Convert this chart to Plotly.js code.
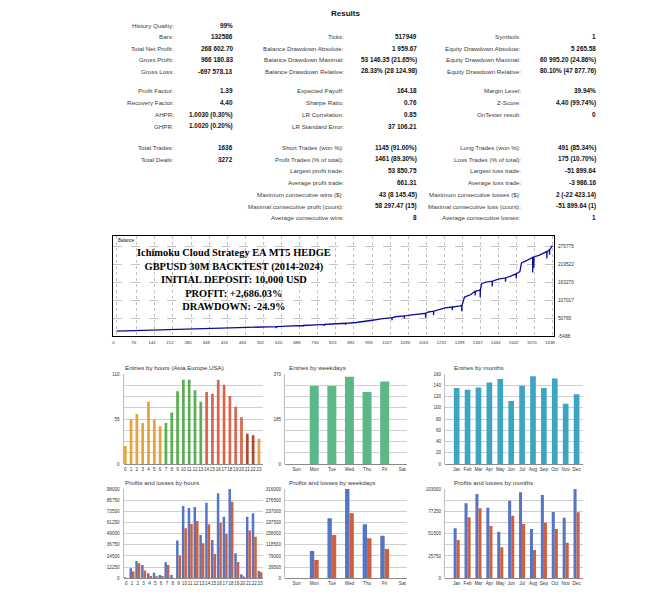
<!DOCTYPE html>
<html><head><meta charset="utf-8">
<script src="https://cdn.plot.ly/plotly-3.0.1.min.js"></script>
<style>html,body{margin:0;padding:0;background:#fff}#chart{width:672px;height:600px}</style>
</head><body><div id="chart"></div>
<script>
// ================= DATA =================
const reportTitle = "Results";
const col1Labels = ["History Quality:","Bars:","Total Net Profit:","Gross Profit:","Gross Loss:","Profit Factor:","Recovery Factor:","AHPR:","GHPR:","Total Trades:","Total Deals:","","","","",""];
const col1Values = ["99%","132586","268 602.70","966 180.83","-697 578.13","1.39","4.40","1.0030 (0.30%)","1.0020 (0.20%)","1636","3272","","","","",""];
const col2Labels = ["","Ticks:","Balance Drawdown Absolute:","Balance Drawdown Maximal:","Balance Drawdown Relative:","Expected Payoff:","Sharpe Ratio:","LR Correlation:","LR Standard Error:","Short Trades (won %):","Profit Trades (% of total):","Largest profit trade:","Average profit trade:","Maximum consecutive wins ($):","Maximal consecutive profit (count):","Average consecutive wins:"];
const col2Values = ["","517949","1 959.67","53 146.35 (21.65%)","28.33% (28 124.98)","164.18","0.76","0.85","37 106.21","1145 (91.00%)","1461 (89.30%)","53 850.75","661.31","43 (8 145.45)","58 297.47 (15)","8"];
const col3Labels = ["","Symbols:","Equity Drawdown Absolute:","Equity Drawdown Maximal:","Equity Drawdown Relative:","Margin Level:","Z-Score:","OnTester result:","","Long Trades (won %):","Loss Trades (% of total):","Largest loss trade:","Average loss trade:","Maximum consecutive losses ($):","Maximal consecutive loss (count):","Average consecutive losses:"];
const col3Values = ["","1","5 265.58","60 995.20 (24.86%)","80.10% (47 877.76)","39.94%","4.40 (99.74%)","0","","491 (85.34%)","175 (10.70%)","-51 899.64","-3 986.16","2 (-22 423.14)","-51 899.64 (1)","1"];

const overlayLines = ["Ichimoku Cloud Strategy EA MT5 HEDGE","GBPUSD 30M BACKTEST (2014-2024)","INITIAL DEPOSIT: 10,000 USD","PROFIT: +2,686.03%","DRAWDOWN: -24.9%"];

const balanceLabel = "Balance";
const balTrade = [0,60,120,188,250,312,370,436,500,561,600,600,601,640,685,700,700,701,750,780,780,781,810,860,860,861,900,935,960,1000,1034,1034,1035,1047,1080,1080,1081,1109,1140,1160,1160,1161,1171,1190,1190,1191,1233,1260,1260,1261,1290,1296,1296,1297,1306,1330,1346,1346,1347,1360,1365,1365,1366,1370,1383,1410,1410,1411,1433,1460,1460,1461,1482,1500,1500,1501,1514,1520,1540,1557,1562,1562,1563,1566,1566,1567,1585,1607,1615,1615,1616,1625,1625,1626,1636];
const balValue = [10000,11600,13000,14800,16300,17800,19000,20000,21500,23100,24000,19000,24000,25500,27100,27600,24000,27600,29500,30800,26000,30800,32300,34500,30000,34500,37000,40000,44000,49000,52000,44000,52000,55000,57500,50000,57500,60800,63500,66000,52000,66000,70000,72500,60000,72500,83000,85500,76000,85500,89000,91000,72000,91000,117000,125000,135000,122000,135000,138000,140000,116000,140000,158000,163400,167000,150000,167000,173000,177000,165000,177000,183700,190000,176000,190000,197000,224000,232000,240000,241500,194000,241500,243000,210000,243000,248000,255600,260000,238000,260000,266000,250000,266000,278603];
const balXTicks = [0,76,144,212,280,348,416,484,552,620,688,756,823,891,959,1027,1095,1163,1231,1299,1367,1434,1502,1570,1638];
const balYTicks = [-5488,50765,107017,163270,219522,275775];

const hourCats = [0,1,2,3,4,5,6,7,8,9,10,11,12,13,14,15,16,17,18,19,20,21,22,23];
const hourLabels = ["0","1","2","3","4","5","6","7","8","9","10","11","12","13","14","15","16","17","18","19","20","21","22","23"];
const entriesByHour = [22,55,61,50,76,54,46,50,63,89,103,103,90,76,88,86,103,97,83,70,57,37,35,31];

const dayCats = [0,1,2,3,4,5,6];
const dayLabels = ["Sun","Mon","Tue","Wed","Thu","Fri","Sat"];
const entriesByDay = [0,321,321,359,296,339,0];

const monthCats = [0,1,2,3,4,5,6,7,8,9,10,11];
const monthLabels = ["Jan","Feb","Mar","Apr","May","Jun","Jul","Aug","Sep","Oct","Nov","Dec"];
const entriesByMonth = [135,132,136,145,151,112,139,156,135,152,107,124];

const profitByHour = [1100,10980,19010,14600,5490,6170,3630,17540,3630,41360,79380,77130,78300,47530,83010,42040,93200,67620,98000,27440,4410,67620,71340,8040];
const lossByHour   = [0,7350,16460,8430,2550,2160,2550,14600,0,24890,54880,59580,62920,38420,59190,26660,61050,48610,84080,17930,1860,52330,45670,6570];
const profitByDay = [0,96700,212400,316000,190900,150200,0];
const lossByDay   = [0,64800,153300,230000,141600,103600,0];
const profitByMonth = [57700,86500,97200,81500,53800,89500,99200,56900,96100,76500,69900,103000];
const lossByMonth   = [44200,70300,80800,60400,35700,72200,62600,32700,64200,56900,41100,76100];

const titles = ["Entries by hours (Asia,Europe,USA)","Entries by weekdays","Entries by months","Profits and losses by hours","Profits and losses by weekdays","Profits and losses by months"];

// ================= LAYOUT / STYLE =================
const W = 672, H = 600;
const fx = x => x / W;
const fy = y => 1 - y / H;
const FONT = "Liberation Sans, Arial, sans-serif";
const rowY = [25.7,36.8,48.5,60,71.3,91,103,114.7,126.3,147.7,159.3,171,182.7,194.5,206.3,218];
const colX = {l1:176, v1:235, l2:345.5, v2:419.5, l3:523, v3:598};
const annotations = [];
function txt(x, y, t, opts) {
  annotations.push(Object.assign({xref:'paper', yref:'paper', x:fx(x), y:fy(y), text:t, showarrow:false,
    xanchor:'right', yanchor:'middle', font:{family:FONT, size:6.2, color:'#3a3a3a'}}, opts||{}));
}
txt(346, 14, "<b>" + reportTitle + "</b>", {xanchor:'center', font:{family:FONT, size:8, color:'#111'}});
const cols = [[col1Labels,col1Values,'l1','v1'],[col2Labels,col2Values,'l2','v2'],[col3Labels,col3Values,'l3','v3']];
cols.forEach(([labs, vals, lk, vk]) => {
  labs.forEach((l, i) => {
    if (l) txt(colX[lk], rowY[i], l);
    if (vals[i]) txt(colX[vk], rowY[i], "<b>" + vals[i] + "</b>", {font:{family:FONT, size:6.4, color:'#111'}});
  });
});
// balance overlay text (one block)
txt(234, 279, overlayLines.map(t => "<b>" + t + "</b>").join("<br>"),
  {xanchor:'center', align:'center', font:{family:"Liberation Serif, Times New Roman, serif", size:10.4, color:'#000'}});
txt(116, 241, balanceLabel, {xanchor:'left', font:{family:FONT, size:4.5, color:'#222'}});
// chart titles
const titlePos = [[123,367],[287,367],[452,367],[123,482],[287,482],[452,482]];
titles.forEach((t, i) => txt(titlePos[i][0], titlePos[i][1], t, {xanchor:'left', font:{family:FONT, size:6.2, color:'#333'}}));

function steps(max, n) { const a = []; for (let i = 0; i <= n; i++) a.push(max * i / n); return a; }
function sparse(vals, every) { return vals.map((v, i) => (i % every === 0) ? String(Math.round(v)) : ''); }

const gridCol = '#cfcfcf';
const tickFont = {family:FONT, size:4.6, color:'#333'};
function barX(domain, range, cats, labels) {
  return {domain:[fx(domain[0]), fx(domain[1])], range:range, tickvals:cats, ticktext:labels, tickangle:0,
    showgrid:false, zeroline:false, showline:false, ticks:'', tickfont:tickFont, ticklabelstandoff:1, fixedrange:true};
}
function barY(domainPx, max, n, every) {
  const tv = steps(max, n);
  return {domain:[fy(domainPx[1]), fy(domainPx[0])], range:[0, max], tickvals:tv, ticktext:sparse(tv, every),
    showgrid:true, gridcolor:gridCol, gridwidth:1, zeroline:true, zerolinecolor:'#8a8a8a', zerolinewidth:1,
    showline:true, linecolor:'#bdbdbd', linewidth:1, ticks:'', tickfont:tickFont, ticklabelstandoff:2, fixedrange:true};
}
const topRow = [374, 464], botRow = [489, 578.3];
const hourX = [123.5, 262.7], dayX = [285, 406.7], monX = [445, 582.7];

const hourColors = hourCats.map(h => h <= 6 ? '#e3a43c' : h <= 13 ? '#5cae52' : h <= 20 ? '#d8674d' : h <= 22 ? '#b1492c' : '#e0a24a');
const blue = '#5675c2', red = '#cf5f3f';

const traces = [
  {type:'scatter', mode:'lines', x:balTrade, y:balValue, xaxis:'x', yaxis:'y', line:{color:'#0d0d98', width:1.3}, hoverinfo:'skip'},
  {type:'bar', x:hourCats, y:entriesByHour, xaxis:'x2', yaxis:'y2', width:0.47, marker:{color:hourColors}},
  {type:'bar', x:dayCats, y:entriesByDay, xaxis:'x3', yaxis:'y3', width:0.51, marker:{color:'#5cb887'}},
  {type:'bar', x:monthCats, y:entriesByMonth, xaxis:'x4', yaxis:'y4', width:0.52, marker:{color:'#3da5c1'}},
  {type:'bar', x:hourCats, y:profitByHour, xaxis:'x5', yaxis:'y5', width:0.43, offset:-0.43, marker:{color:blue}},
  {type:'bar', x:hourCats, y:lossByHour, xaxis:'x5', yaxis:'y5', width:0.43, offset:0, marker:{color:red}},
  {type:'bar', x:dayCats, y:profitByDay, xaxis:'x6', yaxis:'y6', width:0.25, offset:-0.25, marker:{color:blue}},
  {type:'bar', x:dayCats, y:lossByDay, xaxis:'x6', yaxis:'y6', width:0.25, offset:0, marker:{color:red}},
  {type:'bar', x:monthCats, y:profitByMonth, xaxis:'x7', yaxis:'y7', width:0.28, offset:-0.28, marker:{color:blue}},
  {type:'bar', x:monthCats, y:lossByMonth, xaxis:'x7', yaxis:'y7', width:0.28, offset:0, marker:{color:red}}
];

const layout = {
  width:W, height:H, margin:{l:0,r:0,t:0,b:0}, paper_bgcolor:'#fff', plot_bgcolor:'#fff',
  showlegend:false, barmode:'overlay', font:{family:FONT},
  xaxis:{domain:[fx(113), fx(554)], range:[-13, 1642], tickvals:balXTicks, ticktext:balXTicks.map(String), tickangle:0,
    showgrid:true, gridcolor:'#c4c4c4', griddash:'dot', zeroline:false, showline:true, linecolor:'#000', linewidth:1, mirror:true,
    ticks:'', tickfont:{family:FONT, size:4.4, color:'#333'}, ticklabelstandoff:2, ticklabelshift:-3, fixedrange:true},
  yaxis:{domain:[fy(336), fy(236)], range:[-5488, 308900], side:'right', tickvals:balYTicks, ticktext:balYTicks.map(String),
    showgrid:true, gridcolor:'#c4c4c4', griddash:'dash', zeroline:false, showline:true, linecolor:'#000', linewidth:1, mirror:true,
    ticks:'', tickfont:{family:FONT, size:4.8, color:'#333'}, ticklabelstandoff:2, fixedrange:true},
  xaxis2:barX(hourX, [-0.3, 23.65], hourCats, hourLabels), yaxis2:Object.assign(barY(topRow, 110, 8, 4), {anchor:'x2'}),
  xaxis3:barX(dayX, [-0.66, 6.25], dayCats, dayLabels), yaxis3:Object.assign(barY(topRow, 370, 8, 4), {anchor:'x3'}),
  xaxis4:barX(monX, [-1.07, 11.56], monthCats, monthLabels), yaxis4:Object.assign(barY(topRow, 160, 8, 1), {anchor:'x4'}),
  xaxis5:barX(hourX, [-0.46, 23.45], hourCats, hourLabels), yaxis5:Object.assign(barY(botRow, 98000, 8, 1), {anchor:'x5'}),
  xaxis6:barX(dayX, [-0.66, 6.25], dayCats, dayLabels), yaxis6:Object.assign(barY(botRow, 316000, 8, 1), {anchor:'x6'}),
  xaxis7:barX(monX, [-1.07, 11.56], monthCats, monthLabels), yaxis7:Object.assign(barY(botRow, 103000, 8, 2), {anchor:'x7'}),
  annotations:annotations
};
['2','3','4','5','6','7'].forEach(k => { layout['xaxis'+k].anchor = 'y'+k; });
layout.xaxis.anchor = 'y'; layout.yaxis.anchor = 'x';

Plotly.newPlot('chart', traces, layout, {displayModeBar:false, staticPlot:true});
</script>
</body></html>
